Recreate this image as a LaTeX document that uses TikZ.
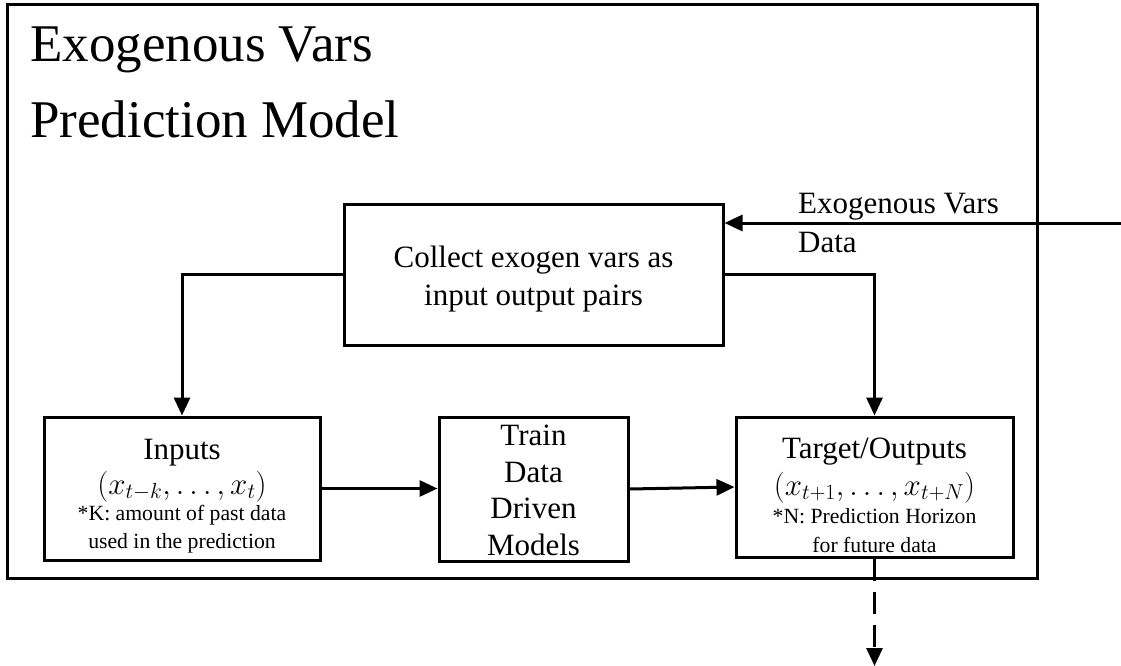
\RequirePackage{fix-cm}
\documentclass[tikz,border=0pt]{standalone}
\usepackage{fontspec}
\setmainfont{Liberation Serif}
\usetikzlibrary{arrows.meta}
\begin{document}
\begin{tikzpicture}[x=1pt, y=-1pt,
  box/.style={draw, line width=3pt, inner sep=0pt, minimum width=#1},
  link/.style={line width=3pt, -{Triangle[length=18pt, width=16pt]}},
  flowout/.style={link, dash pattern=on 22pt off 11pt},
  titletext/.style={font=\fontsize{53}{64}\selectfont, anchor=base west, inner sep=0pt},
  bigtext/.style={font=\fontsize{31}{37}\selectfont, anchor=base, inner sep=0pt},
  smalltext/.style={font=\fontsize{21.7}{26}\selectfont, anchor=base, inner sep=0pt},
]
\useasboundingbox (0,0) rectangle (1121,666);

% outer frame of the model
\node[box=1030pt, minimum height=573pt] (frame) at (522,291.5) {};
\node[titletext] (title1) at (30,62) {Exogenous Vars};
\node[titletext] (title2) at (30,138) {Prediction Model};

% processing blocks
\node[box=379pt, minimum height=141pt] (collect) at (533.5,274.5) {};
\node[box=276pt, minimum height=143pt] (inputs) at (182,488.5) {};
\node[box=189pt, minimum height=144pt] (train) at (533.5,489) {};
\node[box=277pt, minimum height=140pt] (target) at (874.5,487) {};

% block texts
\node[bigtext] (c1) at (533.5,267) {Collect exogen vars as};
\node[bigtext] (c2) at (533.5,305) {input output pairs};

\node[bigtext] (i1) at (182,459) {Inputs};
\node[bigtext] (i2) at (182,494) {$(x_{t-k},\ldots,x_t)$};
\node[smalltext] (i3) at (182,520) {*K: amount of past data};
\node[smalltext] (i4) at (182,548) {used in the prediction};

\node[bigtext] (t1) at (533.5,445) {Train};
\node[bigtext] (t2) at (533.5,482) {Data};
\node[bigtext] (t3) at (533.5,518) {Driven};
\node[bigtext] (t4) at (533.5,555) {Models};

\node[bigtext] (o1) at (874.5,458) {Target/Outputs};
\node[bigtext] (o2) at (874.5,495) {$(x_{t+1},\ldots,x_{t+N})$};
\node[smalltext] (o3) at (874.5,523) {*N: Prediction Horizon};
\node[smalltext] (o4) at (874.5,552) {for future data};

% external data label
\node[bigtext, anchor=base west] (d1) at (798,213) {Exogenous Vars};
\node[bigtext, anchor=base west] (d2) at (798,252) {Data};

% connectors
\coordinate (src) at (1121,223);
\coordinate (sink) at (874.5,666);
\draw[link] (src) -- (src -| collect.east);
\draw[link] (collect.west) -| (inputs.north);
\draw[link] (collect.east) -| (target.north);
\draw[link] (inputs.east) -- (inputs.east -| train.west);
\draw[link] (train.east) -- (target.west);
\draw[flowout] (target.south) -- (sink);
\end{tikzpicture}
\end{document}
